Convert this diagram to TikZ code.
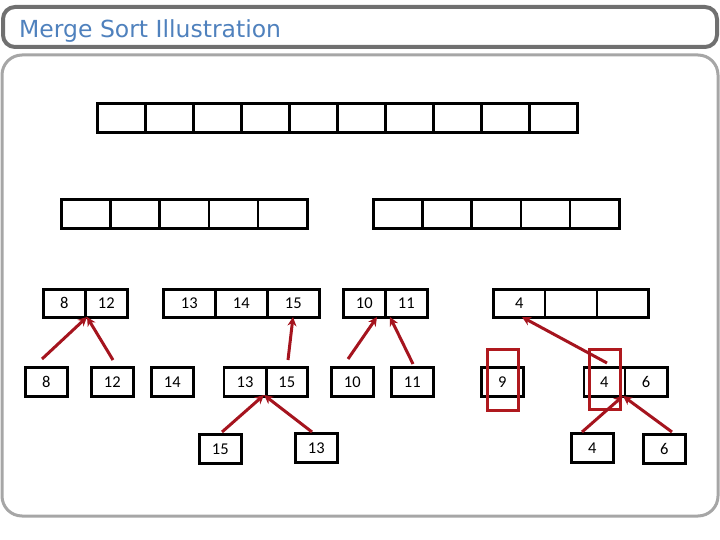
\documentclass[tikz,border=0pt]{standalone}
\usepackage{fontspec}
\setmainfont{Carlito}
\newfontfamily\titlefont{DejaVu Sans}
\usetikzlibrary{arrows.meta}
\definecolor{titleblue}{RGB}{79,129,189}
\definecolor{arrowred}{RGB}{165,20,30}
\definecolor{boxred}{RGB}{175,25,30}
\definecolor{framedark}{RGB}{112,112,112}
\definecolor{framelight}{RGB}{166,166,166}
\tikzset{
  cell/.style={draw=black, line width=2.6pt, anchor=north west, inner sep=0pt,
    font=\fontsize{16.5}{16.5}\selectfont},
  redarrow/.style={draw=arrowred, line width=3pt,
    -{Stealth[length=9pt,width=9pt]}},
  hilite/.style={draw=boxred, line width=3pt},
}
\begin{document}
\begin{tikzpicture}[x=1pt,y=-1pt]
\useasboundingbox (0,0) rectangle (720,540);
% frames
\draw[framedark, line width=4pt, rounded corners=12pt] (3,7) rectangle (717,47);
\node[anchor=base west, text=titleblue, font=\titlefont\fontsize{23.5}{23.5}\selectfont, inner sep=0pt] (title) at (19,38) {Merge Sort Illustration};
\draw[framelight, line width=3pt, rounded corners=20pt] (2,55) rectangle (718,516);

% row 1: 10 empty cells
\foreach \i in {0,...,9} {
  \node[cell, minimum width=48pt, minimum height=29pt] (r1c\i) at ({96+48*\i},102) {};
}
% row 2
\foreach \i in {0,...,4} {
  \node[cell, minimum width=49.2pt, minimum height=29pt] (r2l\i) at ({60+49.2*\i},198) {};
  \node[cell, minimum width=49.2pt, minimum height=29pt] (r2r\i) at ({372+49.2*\i},198) {};
}
% row 3
\node[cell, minimum width=42pt, minimum height=28pt] (a8) at (42,288) {8};
\node[cell, minimum width=42pt, minimum height=28pt] (a12) at (84,288) {12};
\node[cell, minimum width=52pt, minimum height=28pt] (b13) at (162,288) {13};
\node[cell, minimum width=52pt, minimum height=28pt] (b14) at (214,288) {14};
\node[cell, minimum width=52pt, minimum height=28pt] (b15) at (266,288) {15};
\node[cell, minimum width=42pt, minimum height=28pt] (c10) at (342,288) {10};
\node[cell, minimum width=42pt, minimum height=28pt] (c11) at (384,288) {11};
\node[cell, minimum width=51.8pt, minimum height=28pt] (d4) at (492,288) {4};
\node[cell, minimum width=51.8pt, minimum height=28pt] (d5) at (543.8,288) {};
\node[cell, minimum width=51.8pt, minimum height=28pt] (d6) at (595.6,288) {};

% row 4
\node[cell, minimum width=42pt, minimum height=29pt] (e8) at (24,366) {8};
\node[cell, minimum width=42pt, minimum height=29pt] (e12) at (90,366) {12};
\node[cell, minimum width=42pt, minimum height=29pt] (e14) at (150,366) {14};
\node[cell, minimum width=42.5pt, minimum height=29pt] (e13) at (222.5,366) {13};
\node[cell, minimum width=41pt, minimum height=29pt] (e15) at (265,366) {15};
\node[cell, minimum width=42pt, minimum height=29pt] (e10) at (330,366) {10};
\node[cell, minimum width=42pt, minimum height=29pt] (e11) at (390,366) {11};
\node[cell, minimum width=42pt, minimum height=29pt] (e9) at (480,366) {9};
\node[cell, minimum width=41pt, minimum height=29pt] (f4) at (582.5,366) {4};
\node[cell, minimum width=42.5pt, minimum height=29pt] (f6) at (623.5,366) {6};

% row 5
\node[cell, minimum width=42pt, minimum height=29pt] (g15) at (198,433) {15};
\node[cell, minimum width=42pt, minimum height=29pt] (g13) at (294,432) {13};
\node[cell, minimum width=42pt, minimum height=29pt] (g4) at (570,432) {4};
\node[cell, minimum width=42pt, minimum height=29pt] (g6) at (642,433) {6};

% red highlight boxes
\node[hilite, anchor=north west, minimum width=31pt, minimum height=61pt, inner sep=0pt] (h9) at (486,348) {};
\node[hilite, anchor=north west, minimum width=31pt, minimum height=60pt, inner sep=0pt] (h4) at (588,348) {};

% arrow coordinates
\coordinate (s8) at (42,359);
\coordinate (s12) at (113,360);
\coordinate (t812) at (87,317);
\coordinate (s15) at (288,360);
\coordinate (t15) at (293,317);
\coordinate (s10) at (348,359);
\coordinate (t10) at (377,317);
\coordinate (s11) at (413,364);
\coordinate (t11) at (390,317);
\coordinate (s4) at (607,363);
\coordinate (t4) at (522,317);
\coordinate (sg15) at (222,432);
\coordinate (sg13) at (312,432);
\coordinate (t1315) at (264,395);
\coordinate (sg4) at (582,432);
\coordinate (sg6) at (672,432);
\coordinate (t46) at (623,396);

\draw[redarrow] (s8) -- (t812);
\draw[redarrow] (s12) -- (t812);
\draw[redarrow] (s15) -- (t15);
\draw[redarrow] (s10) -- (t10);
\draw[redarrow] (s11) -- (t11);
\draw[redarrow] (s4) -- (t4);
\draw[redarrow] (sg15) -- (t1315);
\draw[redarrow] (sg13) -- (t1315);
\draw[redarrow] (sg4) -- (t46);
\draw[redarrow] (sg6) -- (t46);
\end{tikzpicture}
\end{document}
